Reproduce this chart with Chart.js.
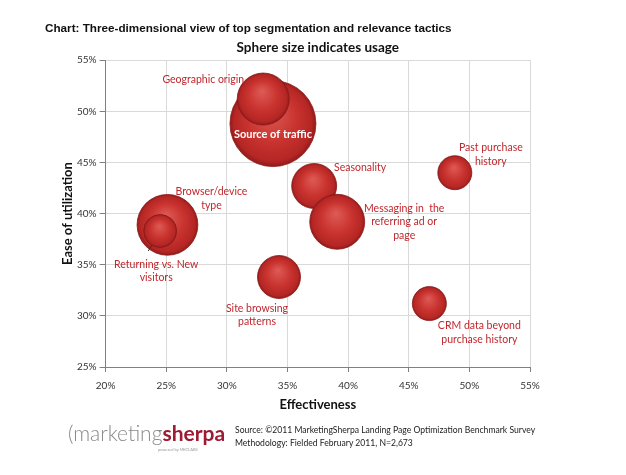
<!DOCTYPE html>
<html>
<head>
<meta charset="utf-8">
<script src="https://cdn.jsdelivr.net/npm/chart.js@4.4.0/dist/chart.umd.min.js"></script>
<style>
  body { margin: 0; background: #fff; }
  #wrap { position: relative; width: 626px; height: 475px; overflow: hidden; }
  #myChart { position: absolute; left: 0; top: 0; }
  .head { position: absolute; left: 45px; top: 21px; font: bold 11.7px "Liberation Sans", Arial, sans-serif; color: #111; white-space: nowrap; }
  .logo { position: absolute; left: 68px; top: 420px; white-space: nowrap; font-family: Lato, sans-serif; font-size: 21px; }
  .logo .m { color: #8a8a8a; font-weight: 300; }
  .logo .s { color: #9e1b32; font-weight: bold; }
  .logo .pw { position: absolute; left: 90px; top: 27px; font-size: 4px; color: #999; }
  .src { position: absolute; left: 235px; top: 424px; font: 8.6px Lato, sans-serif; color: #222; line-height: 13px; white-space: nowrap; }
</style>
</head>
<body>
<div id="wrap">
  <canvas id="myChart" width="626" height="475"></canvas>
  <div class="head">Chart: Three-dimensional view of top segmentation and relevance tactics</div>
  <div class="logo"><span class="m">(</span><span class="m">marketing</span><span class="s">sherpa</span><span class="pw">powered by MECLABS</span></div>
  <div class="src">Source: ©2011 MarketingSherpa Landing Page Optimization Benchmark Survey<br>Methodology: Fielded February 2011, N=2,673</div>
</div>
<script>
// tactics (drawn big first so the small ones sit on top)
const tactics = [
  'Source of traffic',
  'Geographic origin',
  'Browser/device type',
  'Returning vs. New visitors',
  'Seasonality',
  'Messaging in the referring ad or page',
  'Site browsing patterns',
  'Past purchase history',
  'CRM data beyond purchase history'
];
const effectiveness = [33.8, 33.0, 25.1, 24.5, 37.2, 39.1, 34.3, 48.8, 46.7];
const easeOfUse = [48.8, 51.2, 38.9, 38.3, 42.7, 39.2, 33.8, 44.0, 31.2];
const usage = [60, 22, 30, 8.8, 16.4, 24.5, 15, 9.4, 9.4];

const xTicks = [20, 25, 30, 35, 40, 45, 50, 55];
const yTicks = [25, 30, 35, 40, 45, 50, 55];

const labelRed = '#c0272d';

// label text lines + offset from bubble center (px)
const labelSpots = [
  { lines: ['Source of traffic'], dx: 0, dy: 11, white: true },
  { lines: ['Geographic origin'], dx: -60, dy: -19 },
  { lines: ['Browser/device', 'type'], dx: 44, dy: -26 },
  { lines: ['Returning vs. New', 'visitors'], dx: -4, dy: 40, leader: true },
  { lines: ['Seasonality'], dx: 46, dy: -18 },
  { lines: ['Messaging in  the', 'referring ad or', 'page'], dx: 67, dy: 0 },
  { lines: ['Site browsing', 'patterns'], dx: -22, dy: 38 },
  { lines: ['Past purchase', 'history'], dx: 36, dy: -18 },
  { lines: ['CRM data beyond', 'purchase history'], dx: 50, dy: 29 }
];

function bubbleRadius(u) {
  return 5.55 * Math.sqrt(u);
}

function sphereFill(ctx) {
  const chart = ctx.chart;
  if (ctx.type !== 'data' || !chart.scales.x) return '#c62f2c';
  const i = ctx.dataIndex;
  const px = chart.scales.x.getPixelForValue(effectiveness[i]);
  const py = chart.scales.y.getPixelForValue(easeOfUse[i]);
  const r = bubbleRadius(usage[i]);
  if (!isFinite(px) || !isFinite(py)) return '#c62f2c';
  const g = chart.ctx.createRadialGradient(px - r * 0.05, py - r * 0.3, r * 0.05, px, py, r);
  g.addColorStop(0, '#dc5853');
  g.addColorStop(0.55, '#c9332f');
  g.addColorStop(0.9, '#b42624');
  g.addColorStop(1, '#921a1a');
  return g;
}

const bubbleLabels = {
  id: 'bubbleLabels',
  afterDatasetsDraw(chart) {
    const ctx = chart.ctx;
    const meta = chart.getDatasetMeta(0);
    ctx.save();
    ctx.textAlign = 'center';
    ctx.textBaseline = 'middle';
    meta.data.forEach((pt, i) => {
      const spot = labelSpots[i];
      const lh = 13.5;
      const cx = pt.x + spot.dx;
      const cy = pt.y + spot.dy;
      ctx.font = spot.white ? 'bold 11px Lato, sans-serif' : '10.5px Lato, sans-serif';
      ctx.fillStyle = spot.white ? '#ffffff' : labelRed;
      spot.lines.forEach((ln, k) => {
        ctx.fillText(ln, cx, cy + (k - (spot.lines.length - 1) / 2) * lh);
      });
      if (spot.leader) {
        ctx.strokeStyle = '#333';
        ctx.lineWidth = 1;
        ctx.beginPath();
        ctx.moveTo(pt.x - 12, pt.y + 20);
        ctx.lineTo(pt.x - 8, pt.y + 14);
        ctx.stroke();
      }
    });
    ctx.restore();
  }
};

const ctx = document.getElementById('myChart').getContext('2d');
new Chart(ctx, {
  type: 'bubble',
  data: {
    datasets: [
      {
        label: 'Tactics',
        data: tactics.map((t, i) => ({ x: effectiveness[i], y: easeOfUse[i], r: bubbleRadius(usage[i]) })),
        backgroundColor: sphereFill,
        borderColor: '#8a1a1a',
        borderWidth: 0.8
      }
    ]
  },
  options: {
    responsive: false,
    animation: false,
    events: [],
    layout: { padding: { top: 40, right: 96, bottom: 64, left: 61 } },
    plugins: {
      legend: { display: false },
      tooltip: { enabled: false },
      title: {
        display: true,
        text: 'Sphere size indicates usage',
        fullSize: false,
        color: '#111',
        font: { family: 'Lato', size: 13.5, weight: 'bold' },
        padding: { top: 0, bottom: 4 }
      }
    },
    scales: {
      x: {
        type: 'linear',
        min: 20,
        max: 55,
        afterBuildTicks: axis => { axis.ticks = xTicks.map(v => ({ value: v })); },
        grid: { color: '#d9d9d9', tickColor: '#808080', tickLength: 5 },
        border: { color: '#808080' },
        ticks: {
          color: '#333',
          padding: 8,
          font: { family: 'Lato', size: 10 },
          callback: v => v + '%'
        },
        title: {
          display: true,
          text: 'Effectiveness',
          color: '#111',
          font: { family: 'Lato', size: 13, weight: 'bold', lineHeight: 1 },
          padding: { top: -2, bottom: 0 }
        }
      },
      y: {
        type: 'linear',
        min: 25,
        max: 55,
        afterBuildTicks: axis => { axis.ticks = yTicks.map(v => ({ value: v })); },
        grid: { color: '#d9d9d9', tickColor: '#808080', tickLength: 6 },
        border: { color: '#808080' },
        ticks: {
          color: '#333',
          padding: 3,
          font: { family: 'Lato', size: 10 },
          callback: v => v + '%'
        },
        title: {
          display: true,
          text: 'Ease of utilization',
          color: '#111',
          font: { family: 'Lato', size: 13, weight: 'bold', lineHeight: 1 },
          padding: { top: 0, bottom: 0 }
        }
      }
    }
  },
  plugins: [bubbleLabels]
});
</script>
</body>
</html>
